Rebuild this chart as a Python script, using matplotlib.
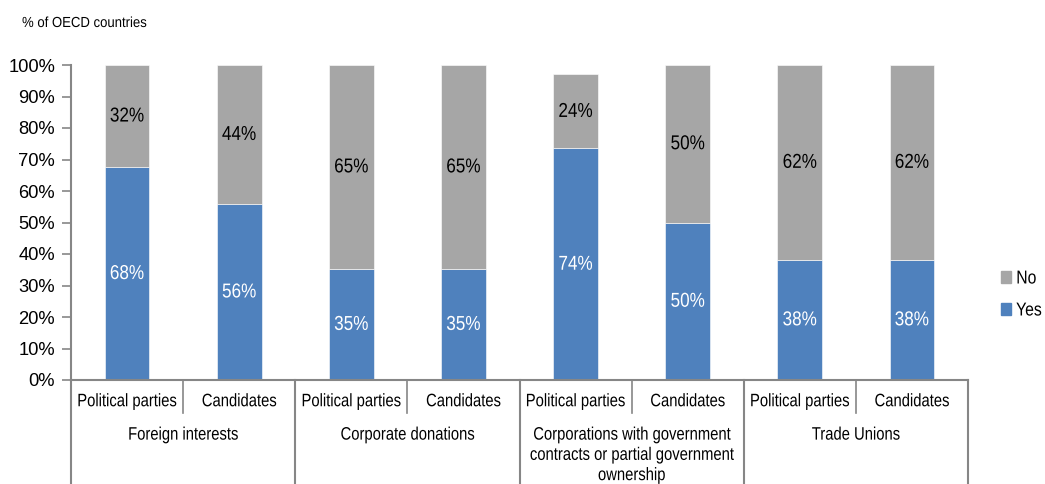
import matplotlib
matplotlib.use("Agg")
import matplotlib.pyplot as plt
from matplotlib.patches import Patch
from matplotlib.patheffects import AbstractPathEffect
from matplotlib.transforms import Affine2D, blended_transform_factory

plt.rcParams["font.family"] = ["Liberation Sans", "DejaVu Sans"]


class Condensed(AbstractPathEffect):
    """Draw text glyphs horizontally squeezed, like a narrow typeface."""

    def __init__(self, sx=0.82, anchor="center"):
        super().__init__()
        self.sx = sx
        self.anchor = anchor

    def draw_path(self, renderer, gc, tpath, affine, rgbFace=None):
        ext = tpath.transformed(affine).get_extents()
        if self.anchor == "left":
            cx = ext.x0
        elif self.anchor == "right":
            cx = ext.x1
        else:
            cx = 0.5 * (ext.x0 + ext.x1)
        squeeze = Affine2D().translate(-cx, 0).scale(self.sx, 1).translate(cx, 0)
        renderer.draw_path(gc, tpath, affine + squeeze, rgbFace)


NARROW = [Condensed(0.82)]

# Share of OECD countries (out of 34) with each ban in place
groups = [
    "Foreign interests",
    "Corporate donations",
    "Corporations with government\ncontracts or partial government\nownership",
    "Trade Unions",
]
recipients = ["Political parties", "Candidates"] * 4
yes_pct = [67.6, 55.9, 35.3, 35.3, 73.5, 50.0, 38.2, 38.2]
no_pct = [32.4, 44.1, 64.7, 64.7, 23.5, 50.0, 61.8, 61.8]
y_ticks = list(range(0, 101, 10))

BLUE = "#4F81BD"
GREY = "#A6A6A6"
AXIS = "#868686"

fig = plt.figure(figsize=(10.45, 4.84), dpi=100)
ax = fig.add_axes([71 / 1045, 104 / 484, 897 / 1045, 315 / 484])

x = [i + 0.5 for i in range(len(recipients))]
ax.bar(x, yes_pct, width=0.4, color=BLUE, edgecolor="white", linewidth=0.4, label="Yes")
ax.bar(x, no_pct, width=0.4, bottom=yes_pct, color=GREY, edgecolor="white", linewidth=0.4, label="No")

for xi, y, n in zip(x, yes_pct, no_pct):
    ax.text(xi, y / 2, f"{y:.0f}%", ha="center", va="center", color="white",
            fontsize=14.5, path_effects=[Condensed(0.85)])
    ax.text(xi, y + n / 2, f"{n:.0f}%", ha="center", va="center", color="black",
            fontsize=14.5, path_effects=[Condensed(0.85)])

ax.set_xlim(0, len(recipients))
ax.set_ylim(0, 100)
ax.set_yticks(y_ticks)
ax.set_yticklabels([f"{t}%" for t in y_ticks], fontsize=13.2)
ax.set_xticks([])
ax.tick_params(axis="y", direction="out", length=6.5, width=1.2, color=AXIS, pad=5)

for side in ("top", "right"):
    ax.spines[side].set_visible(False)
for side in ("left", "bottom"):
    ax.spines[side].set_color(AXIS)
    ax.spines[side].set_linewidth(1.5)

# Two-level category axis: recipients, then donor groups
trans = blended_transform_factory(ax.transData, ax.transAxes)
for xi, name in zip(x, recipients):
    ax.text(xi, -0.069, name, transform=trans, ha="center", va="center",
            fontsize=13, path_effects=NARROW)
for b in (1, 3, 5, 7):
    ax.plot([b, b], [0, -0.105], transform=trans, color=AXIS, lw=1.2, clip_on=False)
for b in (0, 2, 4, 6, 8):
    ax.plot([b, b], [0, -0.34], transform=trans, color=AXIS, lw=1.5, clip_on=False)
for g, name in enumerate(groups):
    ax.text(2 * g + 1, -0.148, name, transform=trans, ha="center", va="top",
            fontsize=13, linespacing=1.25, path_effects=NARROW)

fig.text(22 / 1045, 1 - 23 / 484, "% of OECD countries", ha="left", va="center",
         fontsize=10.5, path_effects=[Condensed(0.9, "left")])

handles = [Patch(color=GREY, label="No"), Patch(color=BLUE, label="Yes")]
leg = fig.legend(handles=handles, loc="center left", bbox_to_anchor=(1001 / 1045, 1 - 295 / 484),
                 frameon=False, fontsize=13.5, handlelength=0.55, handleheight=0.55,
                 handletextpad=0.25, labelspacing=0.8, borderaxespad=0, borderpad=0)
for t in leg.get_texts():
    t.set_path_effects([Condensed(0.84, "left")])

fig.savefig("out.png", dpi=100)
